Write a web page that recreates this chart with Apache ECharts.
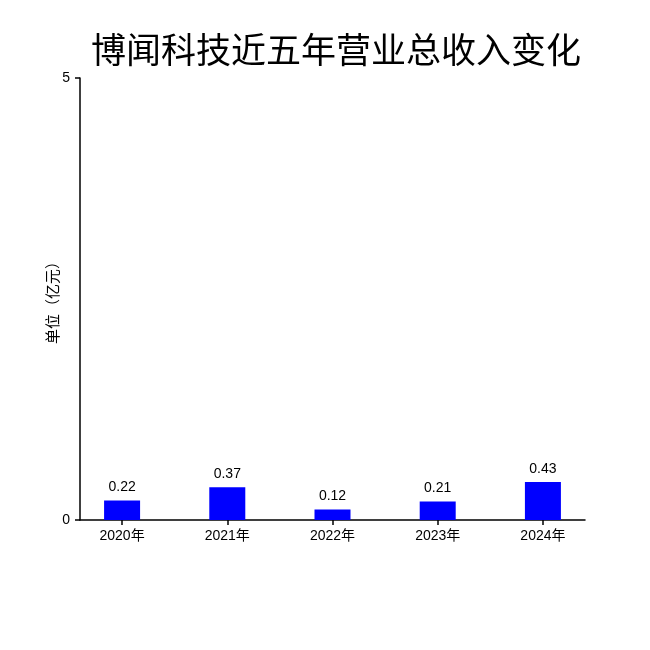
<!DOCTYPE html>
<html>
<head>
<meta charset="utf-8">
<script src="https://cdn.jsdelivr.net/npm/echarts@6/dist/echarts.min.js"></script>
<style>html,body{margin:0;padding:0;background:#fff}#c{width:650px;height:650px}</style>
</head>
<body>
<div id="c"></div>
<script>
var categories = ['2020年', '2021年', '2022年', '2023年', '2024年'];
var revenue = [0.22, 0.37, 0.12, 0.21, 0.43];
var yTicks = [0, 5];

var chart = echarts.init(document.getElementById('c'));
var idx = categories.map(function (c, i) { return i; });
chart.setOption({
  animation: false,
  backgroundColor: '#ffffff',
  title: {
    text: '博闻科技近五年营业总收入变化',
    left: 86,
    top: 27,
    textStyle: { fontSize: 35, fontWeight: 'normal', color: '#000', fontFamily: 'Noto Sans CJK SC' }
  },
  grid: { left: 80, right: 65, top: 78, bottom: 130, containLabel: false },
  xAxis: {
    type: 'value',
    min: -0.4,
    max: 4.4,
    axisLine: { show: true, lineStyle: { color: '#000', width: 1.5 } },
    axisTick: { show: true, length: 5, customValues: idx, lineStyle: { color: '#000', width: 1.5 } },
    axisLabel: {
      customValues: idx,
      margin: 9,
      fontSize: 14,
      color: '#000',
      fontFamily: 'Liberation Sans, Noto Sans CJK SC',
      formatter: function (v) { return categories[Math.round(v)] || ''; }
    },
    splitLine: { show: false }
  },
  yAxis: {
    type: 'value',
    min: yTicks[0],
    max: yTicks[1],
    interval: yTicks[1] - yTicks[0],
    name: '单位（亿元）',
    nameLocation: 'middle',
    nameGap: 20,
    nameMoveOverlap: false,
    nameTextStyle: { fontSize: 15, color: '#000', fontFamily: 'Noto Sans CJK SC' },
    axisLine: { show: true, onZero: false, lineStyle: { color: '#000', width: 1.5 } },
    axisTick: { show: true, length: 5, lineStyle: { color: '#000', width: 1.5 } },
    axisLabel: { fontSize: 14, color: '#000', margin: 10, fontFamily: 'Liberation Sans' },
    splitLine: { show: false }
  },
  series: [{
    type: 'bar',
    barWidth: 36,
    data: revenue.map(function (v, i) { return [i, v]; }),
    itemStyle: { color: '#0000ff' },
    label: {
      show: true,
      position: 'top',
      distance: 6,
      fontSize: 14,
      color: '#000',
      fontFamily: 'Liberation Sans',
      formatter: function (p) { return p.value[1].toFixed(2); }
    }
  }]
});
</script>
</body>
</html>
